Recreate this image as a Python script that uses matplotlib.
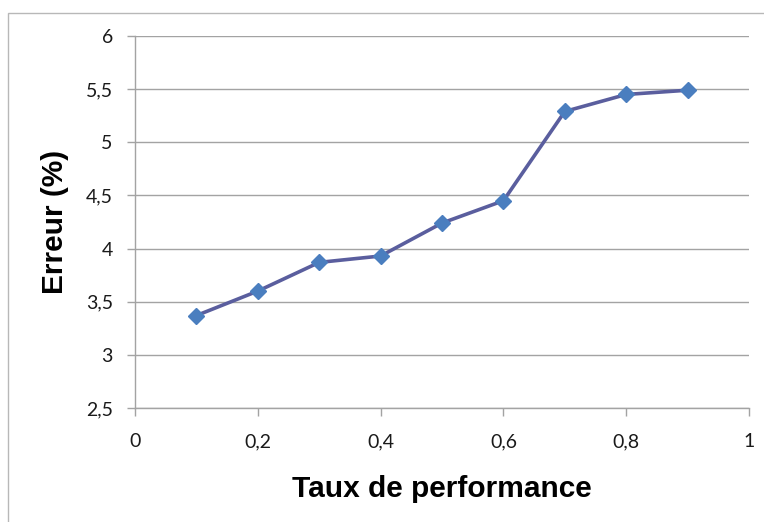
import matplotlib
matplotlib.use("Agg")
import matplotlib.pyplot as plt
from matplotlib.patches import Rectangle
from matplotlib.ticker import FuncFormatter

# values
taux = [0.1, 0.2, 0.3, 0.4, 0.5, 0.6, 0.7, 0.8, 0.9]
erreur = [3.37, 3.60, 3.87, 3.93, 4.24, 4.45, 5.29, 5.45, 5.49]

xticks = [0, 0.2, 0.4, 0.6, 0.8, 1]
yticks = [2.5, 3, 3.5, 4, 4.5, 5, 5.5, 6]

def virgule(v, pos):
  return ("%g" % v).replace(".", ",")

fig = plt.figure(figsize=(7.64, 5.22), dpi=100)
ax = fig.add_axes([135/764, 1 - 408/522, (749-135)/764, (408-36)/522])

# thin chart-area border (only top and left are visible in the crop)
fig.patches.append(Rectangle((8/764, -0.1), 1.2, 1 - 13/522 + 0.1,
                             transform=fig.transFigure, fill=False,
                             edgecolor="#b8b8b8", linewidth=1.0))

ax.plot(taux, erreur, color="#5a5e9e", linewidth=2.6, marker="D",
        markersize=8.5, markerfacecolor="#4a7ebf", markeredgecolor="#4a7ebf",
        zorder=3)

ax.set_xlim(0, 1)
ax.set_ylim(2.5, 6)
ax.set_xticks(xticks)
ax.set_yticks(yticks)
ax.xaxis.set_major_formatter(FuncFormatter(virgule))
ax.yaxis.set_major_formatter(FuncFormatter(virgule))

ax.grid(axis="y", color="#a3a3a3", linewidth=1.0)
ax.set_axisbelow(True)
for s in ["top", "right"]:
  ax.spines[s].set_visible(False)
for s in ["left", "bottom"]:
  ax.spines[s].set_color("#a3a3a3")
  ax.spines[s].set_linewidth(1.0)

ax.tick_params(axis="both", colors="#a3a3a3", labelcolor="#1a1a1a",
               length=6, width=1.0, labelsize=14)
ax.tick_params(axis="y", pad=10)
ax.tick_params(axis="x", pad=12)
for lab in ax.get_xticklabels() + ax.get_yticklabels():
  lab.set_family("Lato")

ax.set_xlabel("Taux de performance", fontsize=21.5, fontweight="bold",
              family="Liberation Sans", labelpad=18)
ax.set_ylabel("Erreur (%)", fontsize=21.5, fontweight="bold",
              family="Liberation Sans", labelpad=12)

fig.savefig("out.png", dpi=100)
